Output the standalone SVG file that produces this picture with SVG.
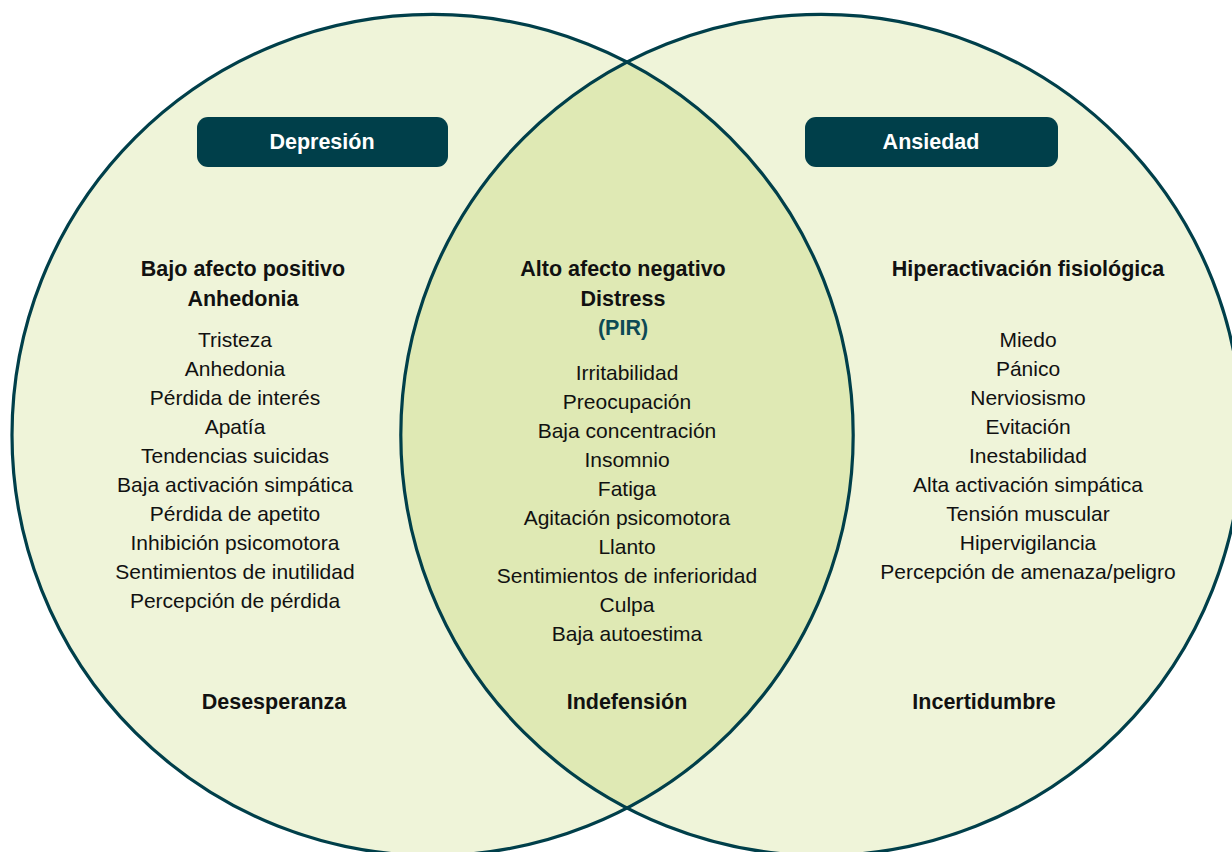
<svg xmlns="http://www.w3.org/2000/svg" width="1232" height="852" viewBox="0 0 1232 852">
<style>
.ring{fill:#eff4d9;stroke:none}
.edge{fill:none;stroke:#003f4a;stroke-width:3.2}
.lens{fill:#dfe9b4}
.box{fill:#003f4a}
text{font-family:"Liberation Sans",Arial,sans-serif;text-anchor:middle;fill:#111}
.t{font-size:21px}
.b{font-size:21.5px;font-weight:bold}
.lbl{font-size:21.5px;font-weight:bold;fill:#ffffff}
.pir{font-size:21.5px;font-weight:bold;fill:#0d4a55}
</style>
<rect width="1232" height="852" fill="#ffffff"/>
<g id="circles">
<circle class="ring" cx="432.6" cy="435" r="420.6"/>
<circle class="ring" cx="821.4" cy="435" r="420.6"/>
<path class="lens" d="M627,62 A420.6,420.6 0 0 1 627,808 A420.6,420.6 0 0 1 627,62 Z"/>
<circle class="edge" cx="432.6" cy="435" r="420.6"/>
<circle class="edge" cx="821.4" cy="435" r="420.6"/>
</g>
<g id="depresion">
<rect class="box" x="197" y="117" width="251" height="50" rx="11"/>
<text class="lbl" x="322" y="149">Depresión</text>
<text class="b" x="243" y="276">Bajo afecto positivo</text>
<text class="b" x="243" y="306">Anhedonia</text>
<text class="t" x="235" y="347">Tristeza</text>
<text class="t" x="235" y="376">Anhedonia</text>
<text class="t" x="235" y="405">Pérdida de interés</text>
<text class="t" x="235" y="434">Apatía</text>
<text class="t" x="235" y="463">Tendencias suicidas</text>
<text class="t" x="235" y="492">Baja activación simpática</text>
<text class="t" x="235" y="521">Pérdida de apetito</text>
<text class="t" x="235" y="550">Inhibición psicomotora</text>
<text class="t" x="235" y="579">Sentimientos de inutilidad</text>
<text class="t" x="235" y="608">Percepción de pérdida</text>
<text class="b" x="274" y="709">Desesperanza</text>
</g>
<g id="comun">
<text class="b" x="623" y="276">Alto afecto negativo</text>
<text class="b" x="623" y="306">Distress</text>
<text class="pir" x="623" y="335">(PIR)</text>
<text class="t" x="627" y="380">Irritabilidad</text>
<text class="t" x="627" y="409">Preocupación</text>
<text class="t" x="627" y="438">Baja concentración</text>
<text class="t" x="627" y="467">Insomnio</text>
<text class="t" x="627" y="496">Fatiga</text>
<text class="t" x="627" y="525">Agitación psicomotora</text>
<text class="t" x="627" y="554">Llanto</text>
<text class="t" x="627" y="583">Sentimientos de inferioridad</text>
<text class="t" x="627" y="612">Culpa</text>
<text class="t" x="627" y="641">Baja autoestima</text>
<text class="b" x="627" y="709">Indefensión</text>
</g>
<g id="ansiedad">
<rect class="box" x="805" y="117" width="253" height="50" rx="11"/>
<text class="lbl" x="931" y="149">Ansiedad</text>
<text class="b" x="1028" y="276">Hiperactivación fisiológica</text>
<text class="t" x="1028" y="347">Miedo</text>
<text class="t" x="1028" y="376">Pánico</text>
<text class="t" x="1028" y="405">Nerviosismo</text>
<text class="t" x="1028" y="434">Evitación</text>
<text class="t" x="1028" y="463">Inestabilidad</text>
<text class="t" x="1028" y="492">Alta activación simpática</text>
<text class="t" x="1028" y="521">Tensión muscular</text>
<text class="t" x="1028" y="550">Hipervigilancia</text>
<text class="t" x="1028" y="579">Percepción de amenaza/peligro</text>
<text class="b" x="984" y="709">Incertidumbre</text>
</g>
<g id="connectors"></g>
</svg>
